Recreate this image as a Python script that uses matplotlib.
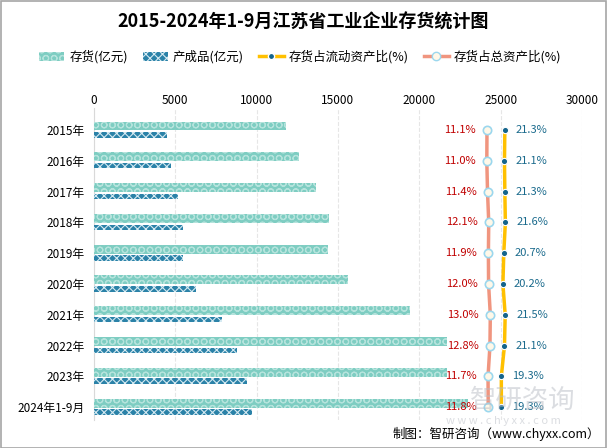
import matplotlib
matplotlib.use("Agg")
import matplotlib.pyplot as plt
from matplotlib.lines import Line2D
from matplotlib.patches import Patch, Rectangle
import numpy as np

plt.rcParams['font.family'] = ['Noto Sans CJK SC', 'DejaVu Sans']
plt.rcParams['hatch.linewidth'] = 0.8

categories = ['2015年', '2016年', '2017年', '2018年', '2019年', '2020年',
              '2021年', '2022年', '2023年', '2024年1-9月']
inventory = [11800, 12600, 13650, 14450, 14400, 15600, 19450, 21700, 21700, 23000]
finished = [4500, 4730, 5150, 5470, 5470, 6270, 7870, 8800, 9400, 9720]
pct_current = [21.3, 21.1, 21.3, 21.6, 20.7, 20.2, 21.5, 21.1, 19.3, 19.3]
pct_total = [11.1, 11.0, 11.4, 12.1, 11.9, 12.0, 13.0, 12.8, 11.7, 11.8]
xticks = [0, 5000, 10000, 15000, 20000, 25000, 30000]

fig = plt.figure(figsize=(6.07, 4.48), dpi=100)
ax = fig.add_axes([94/607, 1-420/448, 488/607, 312/448])
y = np.arange(len(categories))

ax.barh(y - 0.13, inventory, height=0.29, color='#7ECDC2', edgecolor='#B5E3DC',
        hatch='OO', linewidth=0, zorder=3)
ax.barh(y + 0.16, finished, height=0.18, color='#2B82A8', edgecolor='#D5EAF2',
        hatch='xxxx', linewidth=0, zorder=3)

ax2 = ax.twiny()

ax.set_xlim(0, 30000)
ax.set_ylim(9.42, -0.715)
ax.xaxis.tick_top()
ax.xaxis.set_label_position('top')
ax.set_xticks(xticks)
ax.set_xticklabels([str(v) for v in xticks], fontsize=8.5)
ax.tick_params(axis='x', length=0, pad=1, top=True, labeltop=True, bottom=False, labelbottom=False)
ax.set_yticks(y)
ax.set_yticklabels(categories, fontsize=8.5)
ax.tick_params(axis='y', length=0, pad=7)
ax.grid(axis='x', color='#E6E6E6', linewidth=0.8, linestyle='--', zorder=0)
for s in ['top', 'right', 'bottom']:
    ax.spines[s].set_visible(False)
ax.spines['left'].set_color('#D9D9D9')

lo, hi = -213.5, 65.4
ax2.set_xlim(lo, hi)
ax2.set_ylim(9.42, -0.715)
ax2.axis('off')
ax2.plot(pct_total, y, color='#F0957F', linewidth=2.5, marker='o', markersize=6,
         markerfacecolor='#FFF8E8', markeredgecolor='#9BD7EE', markeredgewidth=1.2, zorder=4)
ax2.plot(pct_current, y, color='#FFC000', linewidth=2.5, marker='o', markersize=4.5,
         markerfacecolor='#14648C', markeredgecolor='#FFFFFF', markeredgewidth=0.8, zorder=4)
for yi, v in zip(y, pct_total):
    ax2.annotate(f'{v:.1f}%', (v, yi), xytext=(-8, 0), textcoords='offset points',
                 ha='right', va='center', fontsize=8, color='#C00000', zorder=5)
for yi, v in zip(y, pct_current):
    ax2.annotate(f'{v:.1f}%', (v, yi), xytext=(8, 0), textcoords='offset points',
                 ha='left', va='center', fontsize=8, color='#1A6A8C', zorder=5)

fig.text(0.5, 1-22/448, '2015-2024年1-9月江苏省工业企业存货统计图', ha='center', va='center',
         fontsize=13, fontweight='bold')

handles = [
    Patch(facecolor='#7ECDC2', edgecolor='#B5E3DC', hatch='OO', linewidth=0),
    Patch(facecolor='#2B82A8', edgecolor='#D5EAF2', hatch='xxxx', linewidth=0),
    Line2D([], [], color='#FFC000', linewidth=2.5, marker='o', markersize=4.5,
           markerfacecolor='#14648C', markeredgecolor='#FFFFFF'),
    Line2D([], [], color='#F0957F', linewidth=2.5, marker='o', markersize=6,
           markerfacecolor='#FFF8E8', markeredgecolor='#9BD7EE'),
]
labels = ['存货(亿元)', '产成品(亿元)', '存货占流动资产比(%)', '存货占总资产比(%)']
fig.legend(handles, labels, loc='center', bbox_to_anchor=(0.495, 1-57/448), ncol=4,
           frameon=False, fontsize=9, handlelength=2.0, handletextpad=0.4,
           columnspacing=1.2)

fig.text(0.775, 1-400/448, '智研咨询', fontsize=19, color='#B8BCC4',
         alpha=0.5, ha='left', va='center', zorder=10)
fig.text(0.735, 1-421/448, 'w w w . c h y x x . c o m', fontsize=8, color='#B8BCC4', alpha=0.5,
         ha='left', va='center', zorder=10)
fig.text(0.988, 1-434/448, '制图：智研咨询（www.chyxx.com）', ha='right', va='center',
         fontsize=9)

fig.add_artist(Rectangle((0.001, 0.001), 0.997, 0.997, transform=fig.transFigure,
                         fill=False, edgecolor='#A6A6A6', linewidth=1.2))

fig.savefig('out.png', dpi=100)
